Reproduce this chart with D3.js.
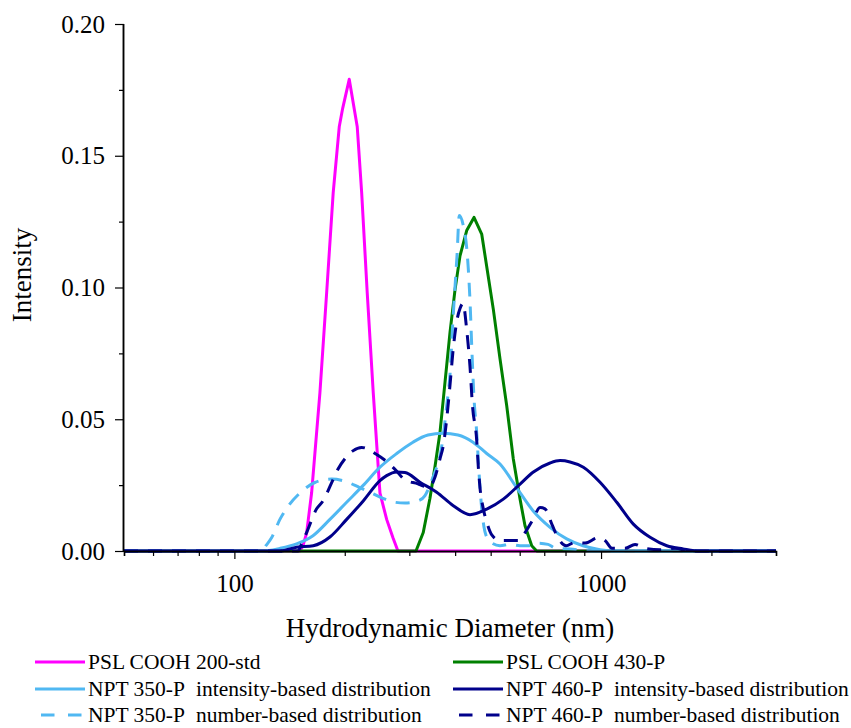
<!DOCTYPE html>
<html>
<head>
<meta charset="utf-8">
<script src="https://cdn.jsdelivr.net/npm/d3@7"></script>
<style>
  html, body { margin: 0; padding: 0; background: #fff; }
  svg { display: block; }
</style>
</head>
<body>
<div id="chart"></div>
<script>
// ---------- Data (diameter in nm, intensity fraction) ----------
const psl200Diam = [50, 150.9, 153.8, 157.4, 162.4, 171.1, 178.5, 186.0, 193.2, 197.4, 205.7, 216.3, 222.4, 230.3, 239.2, 249.5, 260.2, 270.7, 279.3, 3000];
const psl200Int  = [0, 0, 0.002, 0.0068, 0.022, 0.060, 0.098, 0.136, 0.161, 0.168, 0.179, 0.161, 0.136, 0.098, 0.060, 0.022, 0.012, 0.005, 0, 0];

const psl430Diam = [50, 312.8, 327.4, 341.5, 352.4, 363.7, 375.3, 387.3, 399.6, 412.4, 430.1, 450.3, 472.6, 487.7, 508.3, 530.2, 553.0, 576.4, 601.2, 620.3, 647.0, 667.7, 3000];
const psl430Int  = [0, 0, 0.007, 0.020, 0.032, 0.045, 0.064, 0.083, 0.099, 0.112, 0.1216, 0.1266, 0.1203, 0.108, 0.0918, 0.0729, 0.0551, 0.0349, 0.0197, 0.0096, 0.002, 0, 0];

const npt350IntDiam = [50, 119.6, 133.1, 147.8, 163.8, 182.2, 202.4, 224.2, 249.5, 277.1, 306.9, 337.3, 370.6, 407.2, 447.5, 487.7, 530.2, 588.8, 652.3, 725.9, 806.1, 893.1, 993.7, 1091.9, 3000];
const npt350IntVal  = [0, 0, 0.001, 0.0027, 0.0058, 0.012, 0.0185, 0.0248, 0.0318, 0.037, 0.0413, 0.0440, 0.0447, 0.0440, 0.0413, 0.037, 0.033, 0.024, 0.0153, 0.009, 0.0046, 0.002, 0.0005, 0, 0];

const npt460IntDiam = [50, 133.1, 147.8, 164.1, 182.2, 202.4, 224.6, 249.5, 260.2, 277.1, 291.9, 320.7, 356.2, 395.4, 439.1, 487.7, 541.3, 601.2, 652.3, 725.9, 772.9, 823.0, 894.8, 993.7, 1103.6, 1224.9, 1360.5, 1511.0, 1674.0, 1862.7, 3000];
const npt460IntVal  = [0, 0, 0.0014, 0.002, 0.0053, 0.012, 0.019, 0.0267, 0.0286, 0.0300, 0.0298, 0.0261, 0.0223, 0.0172, 0.0138, 0.0159, 0.0197, 0.0254, 0.0299, 0.0334, 0.0343, 0.0338, 0.0318, 0.0261, 0.0185, 0.0102, 0.0052, 0.002, 0.0008, 0, 0];

const npt350NumDiam = [50, 118.9, 121.9, 126.3, 133.1, 140.2, 150.9, 165.8, 184.2, 200.2, 220.0, 234.3, 254.2, 274.1, 291.9, 316.7, 331.0, 341.5, 352.4, 363.7, 370.6, 379.3, 387.3, 394.6, 399.6, 404.7, 410.6, 420.2, 430.1, 434.5, 439.1, 444.7, 450.3, 458.0, 464.6, 473.5, 485.5, 504.2, 530.2, 564.6, 601.2, 632.1, 673.2, 716.8, 753.8, 823.0, 933.3, 3000];
const npt350NumVal  = [0, 0, 0.002, 0.005, 0.012, 0.017, 0.022, 0.026, 0.0273, 0.0265, 0.024, 0.0223, 0.020, 0.0185, 0.0182, 0.019, 0.021, 0.025, 0.030, 0.036, 0.043, 0.055, 0.067, 0.088, 0.100, 0.112, 0.1273, 0.124, 0.115, 0.107, 0.095, 0.075, 0.058, 0.045, 0.030, 0.015, 0.006, 0.003, 0.002, 0.0025, 0.002, 0.002, 0.003, 0.0025, 0.001, 0.0008, 0, 0];

const npt460NumDiam = [50, 149.0, 152.8, 157.4, 167.6, 174.4, 185.7, 191.6, 200.2, 210.5, 222.4, 231.3, 241.8, 254.2, 274.1, 291.9, 316.7, 331.0, 341.5, 352.4, 363.7, 371.3, 379.3, 387.3, 395.4, 403.9, 412.4, 420.2, 430.1, 439.1, 446.1, 458.0, 462.6, 467.6, 477.4, 487.7, 504.2, 530.2, 593.7, 620.3, 652.3, 681.7, 703.4, 735.0, 763.3, 802.6, 849.2, 904.4, 981.3, 1025.4, 1071.5, 1162.8, 1238.0, 1318.4, 1448.7, 1591.8, 1749.2, 3000];
const npt460NumVal  = [0, 0, 0.003, 0.007, 0.016, 0.019, 0.027, 0.031, 0.035, 0.038, 0.0393, 0.0387, 0.037, 0.035, 0.031, 0.027, 0.0255, 0.0245, 0.0245, 0.028, 0.035, 0.040, 0.050, 0.063, 0.077, 0.087, 0.092, 0.094, 0.084, 0.070, 0.055, 0.042, 0.032, 0.024, 0.016, 0.011, 0.006, 0.004, 0.004, 0.007, 0.012, 0.0165, 0.016, 0.010, 0.005, 0.002, 0.0033, 0.003, 0.005, 0.004, 0.001, 0.001, 0.0025, 0.001, 0.0005, 0.001, 0, 0];

const sampleNames = ["PSL COOH 200-std", "PSL COOH 430-P", "NPT 350-P", "NPT 460-P", "NPT 350-P", "NPT 460-P"];
const distLabels  = ["", "", "intensity-based distribution", "intensity-based distribution", "number-based distribution", "number-based distribution"];

const yTickValues = [0, 0.05, 0.10, 0.15, 0.20];
const yMinorValues = [0.025, 0.075, 0.125, 0.175];
const xMajorValues = [100, 1000];
const xMinorValues = [50, 60, 70, 80, 90, 200, 300, 400, 500, 600, 700, 800, 900, 2000, 3000];
const xDomain = [50, 3000];
const yDomain = [0, 0.20];

// ---------- Layout ----------
const FONT = "Liberation Serif";
const W = 851, H = 728;
const X0 = 124, X1 = 776, Y0 = 551, Y1 = 24;

const svg = d3.select("#chart").append("svg").attr("width", W).attr("height", H);

const x = d3.scaleLog().domain(xDomain).range([X0, X1]);
const y = d3.scaleLinear().domain(yDomain).range([Y0, Y1]);

// ---------- Series ----------
const zip = (ds, vs) => ds.map((d, i) => ({d: d, v: vs[i]}));
const series = [
  {idx: 0, data: zip(psl200Diam, psl200Int),       color: "#ff00ff", dash: null,    curve: d3.curveLinear},
  {idx: 1, data: zip(psl430Diam, psl430Int),       color: "#008000", dash: null,    curve: d3.curveLinear},
  {idx: 2, data: zip(npt350IntDiam, npt350IntVal), color: "#50b8f2", dash: null,    curve: d3.curveMonotoneX},
  {idx: 4, data: zip(npt350NumDiam, npt350NumVal), color: "#50b8f2", dash: "14,10", curve: d3.curveMonotoneX},
  {idx: 3, data: zip(npt460IntDiam, npt460IntVal), color: "#00008b", dash: null,    curve: d3.curveMonotoneX},
  {idx: 5, data: zip(npt460NumDiam, npt460NumVal), color: "#00008b", dash: "14,10", curve: d3.curveMonotoneX}
];

const plot = svg.append("g");
series.forEach(s => {
  const line = d3.line().x(p => x(p.d)).y(p => y(p.v)).curve(s.curve);
  plot.append("path")
    .datum(s.data)
    .attr("d", line)
    .attr("fill", "none")
    .attr("stroke", s.color)
    .attr("stroke-width", 3)
    .attr("stroke-linejoin", "round")
    .attr("stroke-dasharray", s.dash);
});

// ---------- Axes ----------
const xAxisMajor = d3.axisBottom(x).tickValues(xMajorValues).tickFormat(d3.format("d")).tickSize(8).tickPadding(15);
const xAxisMinor = d3.axisBottom(x).tickValues(xMinorValues).tickFormat("").tickSize(5);
const gx = svg.append("g").attr("transform", `translate(0,${Y0})`);
gx.call(xAxisMajor);
gx.append("g").call(xAxisMinor);
gx.selectAll(".domain").attr("stroke", "#000").attr("stroke-width", 1.5);
gx.selectAll(".tick line").attr("stroke", "#000").attr("stroke-width", 1.2);
gx.selectAll("text").style("font-family", FONT).style("font-size", "25px").attr("fill", "#000");
gx.select(".domain").attr("d", `M${X0},0.5H${X1}`);

const yAxisMajor = d3.axisLeft(y).tickValues(yTickValues).tickFormat(d3.format(".2f")).tickSize(9).tickPadding(10);
const yAxisMinor = d3.axisLeft(y).tickValues(yMinorValues).tickFormat("").tickSize(5);
const gy = svg.append("g").attr("transform", `translate(${X0},0)`);
gy.call(yAxisMajor);
gy.append("g").call(yAxisMinor);
gy.selectAll(".domain").attr("stroke", "#000").attr("stroke-width", 1.5);
gy.selectAll(".tick line").attr("stroke", "#000").attr("stroke-width", 1.2);
gy.selectAll("text").style("font-family", FONT).style("font-size", "25px").attr("fill", "#000");
gy.selectAll(".domain").attr("d", `M-0.5,${Y0}V${Y1}`);

// Axis titles
svg.append("text")
  .attr("x", (X0 + X1) / 2).attr("y", 637)
  .attr("text-anchor", "middle")
  .style("font-family", FONT).style("font-size", "27px")
  .text("Hydrodynamic Diameter (nm)");

svg.append("text")
  .attr("transform", "translate(31,275) rotate(-90)")
  .attr("text-anchor", "middle")
  .style("font-family", FONT).style("font-size", "27px")
  .text("Intensity");

// ---------- Legend ----------
const legendItems = [
  {s: series[0], col: 0, row: 0},
  {s: series[2], col: 0, row: 1},
  {s: series[3], col: 0, row: 2},
  {s: series[1], col: 1, row: 0},
  {s: series[4], col: 1, row: 1},
  {s: series[5], col: 1, row: 2}
];
const colX = [35, 453];
const rowY = [662, 689, 715];
const lg = svg.append("g");
legendItems.forEach(it => {
  const lx = colX[it.col], ly = rowY[it.row];
  const ln = lg.append("line")
    .attr("y1", ly).attr("y2", ly)
    .attr("stroke", it.s.color).attr("stroke-width", 3);
  if (it.s.dash) {
    ln.attr("x1", lx + 6).attr("x2", lx + 47).attr("stroke-dasharray", "13.5,13.5");
  } else {
    ln.attr("x1", lx).attr("x2", lx + 50);
  }
  const t = lg.append("text")
    .attr("x", lx + 53).attr("y", ly)
    .attr("dy", "0.33em")
    .style("font-family", FONT).style("font-size", "21.5px");
  t.append("tspan").text(sampleNames[it.s.idx]);
  if (distLabels[it.s.idx]) {
    t.append("tspan").attr("dx", 11).text(distLabels[it.s.idx]);
  }
});
</script>
</body>
</html>
